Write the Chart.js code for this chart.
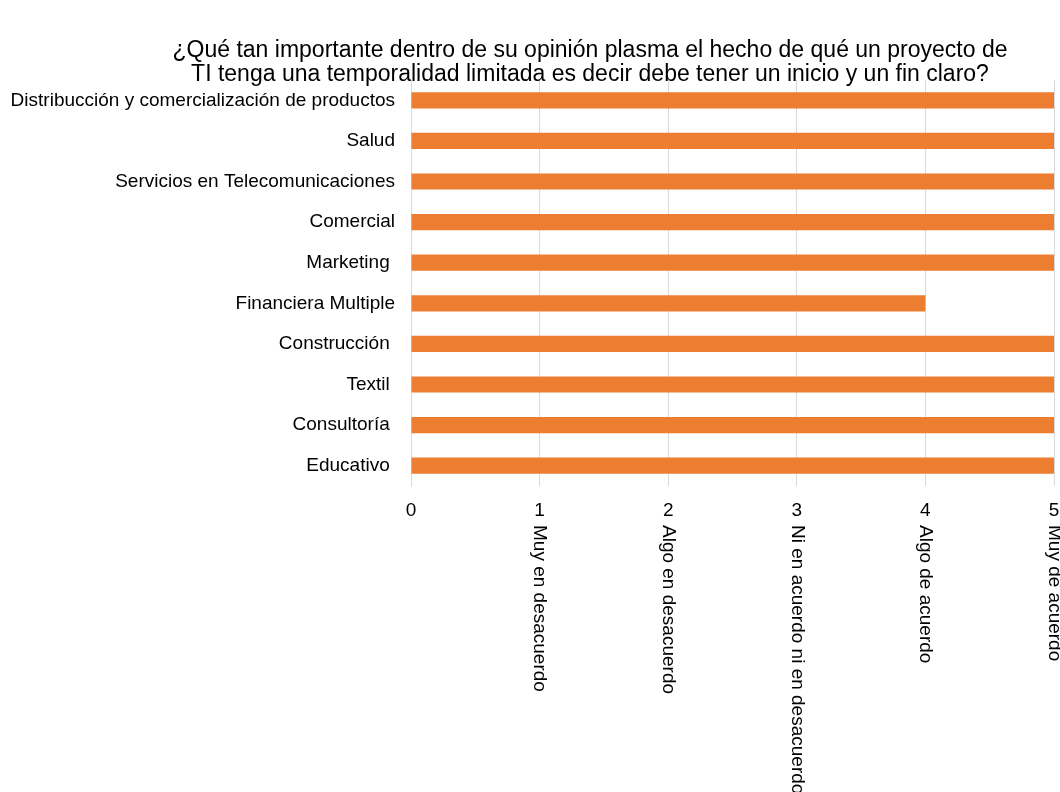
<!DOCTYPE html>
<html>
<head>
<meta charset="utf-8">
<script src="https://cdn.jsdelivr.net/npm/chart.js@4"></script>
<style>
    html, body { margin: 0; padding: 0; background: #fff; }
    #wrap { width: 1060px; height: 792px; }
</style>
</head>
<body>
<div id="wrap"><canvas id="grafica" width="1060" height="792"></canvas></div>
<script>
// datos de la encuesta
const sectores = [
    'Distribucción y comercialización de productos',
    'Salud',
    'Servicios en Telecomunicaciones',
    'Comercial',
    'Marketing ',
    'Financiera Multiple',
    'Construcción ',
    'Textil ',
    'Consultoría ',
    'Educativo '
];
const valores = [5, 5, 5, 5, 5, 4, 5, 5, 5, 5];
const escala = ['', 'Muy en desacuerdo', 'Algo en desacuerdo', 'Ni en acuerdo ni en desacuerdo', 'Algo de acuerdo', 'Muy de acuerdo'];
const titulo = [
    '¿Qué tan importante dentro de su opinión plasma el hecho de qué un proyecto de',
    'TI tenga una temporalidad limitada es decir debe tener un inicio y un fin claro?'
];

const fuente = '"Liberation Sans", Arial, Helvetica, sans-serif';

// título y leyendas de la escala (texto girado bajo cada número)
const textosExtra = {
    id: 'textosExtra',
    afterDraw(chart) {
        const ctx = chart.ctx;
        ctx.save();
        ctx.fillStyle = '#000';
        ctx.font = '23px ' + fuente;
        ctx.textAlign = 'center';
        ctx.textBaseline = 'middle';
        ctx.fillText(titulo[0], 590, 51);
        ctx.fillText(titulo[1], 590, 75);

        const x = chart.scales.x;
        ctx.font = '19px ' + fuente;
        ctx.textAlign = 'left';
        escala.forEach((txt, i) => {
            if (!txt) return;
            const px = x.getPixelForValue(i);
            ctx.save();
            ctx.translate(px, 525);
            ctx.rotate(Math.PI / 2);
            ctx.fillText(txt, 0, 0);
            ctx.restore();
        });
        ctx.restore();
    }
};

new Chart(document.getElementById('grafica'), {
    type: 'bar',
    data: {
        labels: sectores,
        datasets: [{
            data: valores,
            backgroundColor: '#ED7D31',
            borderWidth: 0,
            categoryPercentage: 1,
            barPercentage: 0.4
        }]
    },
    options: {
        indexAxis: 'y',
        responsive: false,
        animation: false,
        layout: { padding: { top: 80, right: 0, left: 0, bottom: 0 } },
        plugins: {
            legend: { display: false },
            tooltip: { enabled: false }
        },
        scales: {
            x: {
                min: 0,
                max: 5,
                ticks: {
                    stepSize: 1,
                    color: '#000',
                    padding: 13,
                    font: { family: fuente, size: 19 }
                },
                grid: {
                    color: '#d9d9d9',
                    lineWidth: 1,
                    drawTicks: false
                },
                border: { display: false },
                afterFit(scale) {
                    scale.height = 306;
                    scale.paddingLeft = 0;
                    scale.paddingRight = 6;
                }
            },
            y: {
                ticks: {
                    color: '#000',
                    padding: 16,
                    font: { family: fuente, size: 19 }
                },
                grid: { display: false, drawTicks: false },
                border: { display: true, color: '#d9d9d9' },
                afterFit(scale) { scale.width = 411; }
            }
        }
    },
    plugins: [textosExtra]
});
</script>
</body>
</html>
